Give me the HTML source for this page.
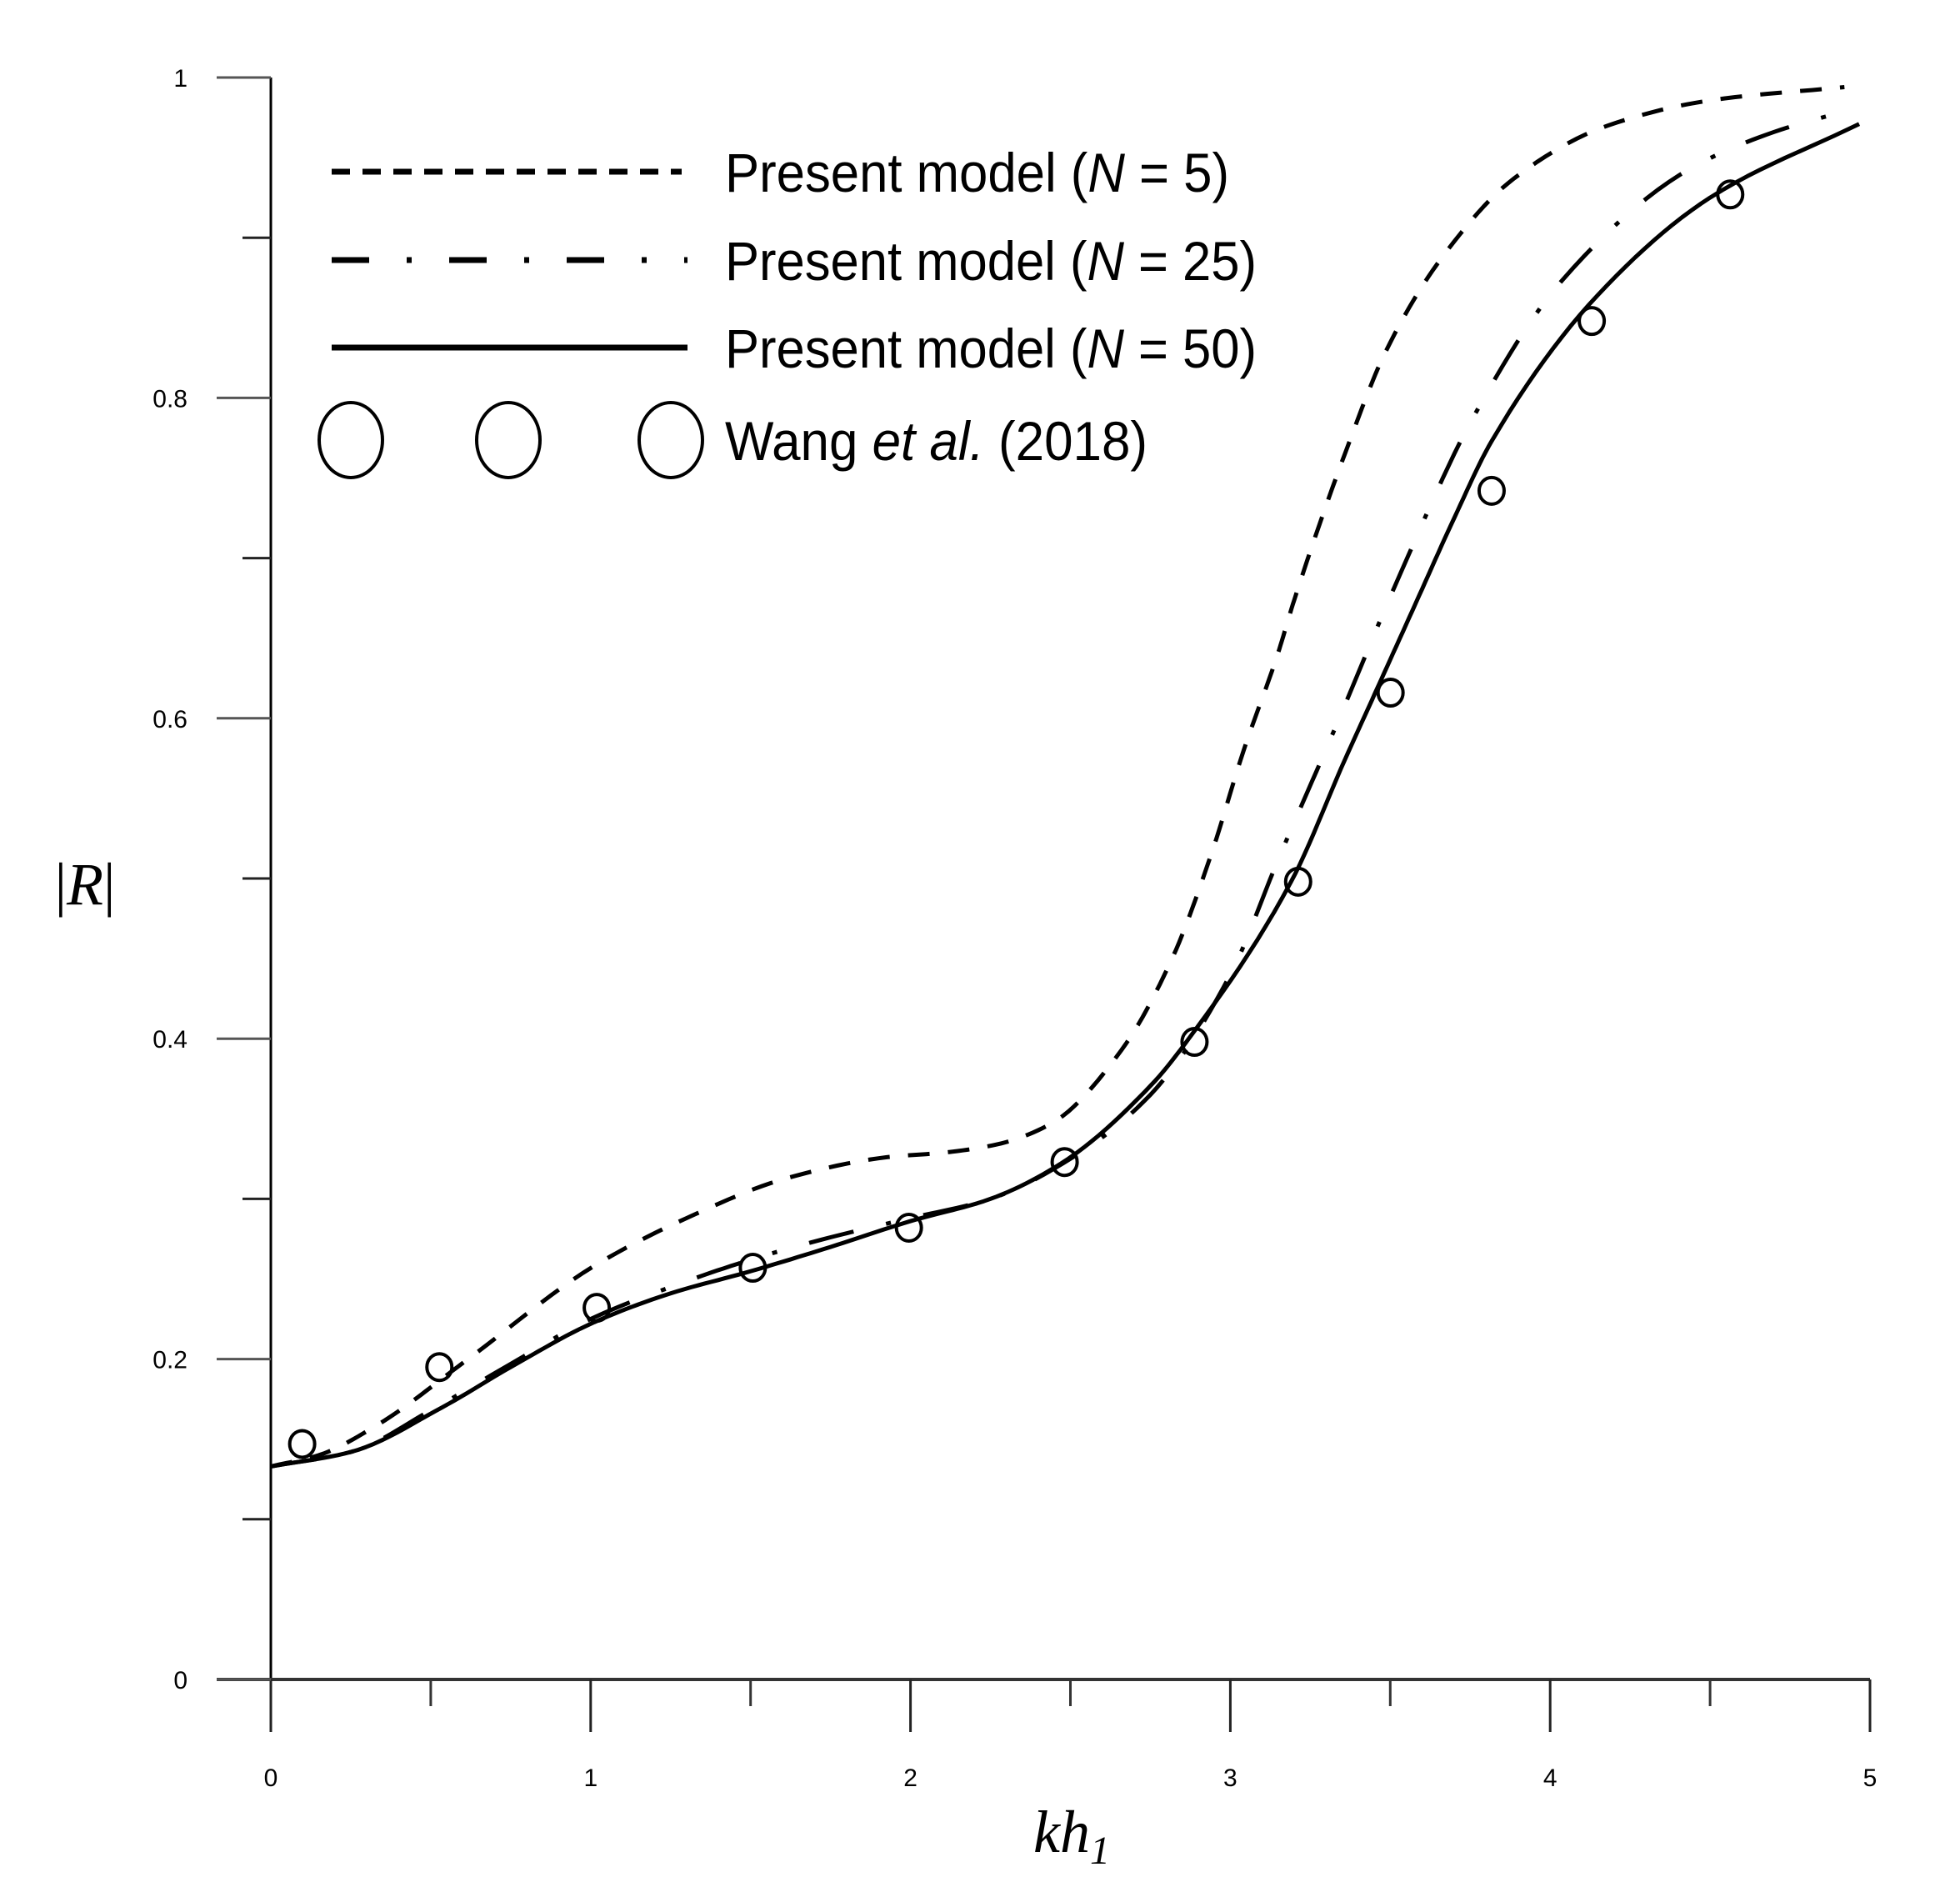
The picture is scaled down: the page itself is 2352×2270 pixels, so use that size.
<!DOCTYPE html>
<html><head><meta charset="utf-8"><style>
html,body{margin:0;padding:0;background:#fff;}
svg{display:block;}
text{font-family:"Liberation Sans",sans-serif;fill:#000;}
</style></head><body>
<svg id="chart" width="2352" height="2270" viewBox="0 0 2352 2270" xmlns="http://www.w3.org/2000/svg">
<g id="axes"></g>
<g id="series"></g>
<g id="legend">
  <line x1="398" y1="206" x2="818" y2="206" stroke="#000" stroke-width="7" stroke-dasharray="22,15"/>
  <text x="870" y="230" font-size="66" textLength="605" lengthAdjust="spacingAndGlyphs">Present model (<tspan font-style="italic">N</tspan> = 5)</text>
  <line x1="398" y1="312" x2="825" y2="312" stroke="#000" stroke-width="7" stroke-dasharray="45,45,6,45"/>
  <text x="870" y="336" font-size="66" textLength="638" lengthAdjust="spacingAndGlyphs">Present model (<tspan font-style="italic">N</tspan> = 25)</text>
  <line x1="398" y1="417" x2="825" y2="417" stroke="#000" stroke-width="7"/>
  <text x="870" y="441" font-size="66" textLength="638" lengthAdjust="spacingAndGlyphs">Present model (<tspan font-style="italic">N</tspan> = 50)</text>
  <ellipse cx="421" cy="528" rx="38" ry="45" fill="none" stroke="#000" stroke-width="4"/>
  <ellipse cx="610" cy="528" rx="38" ry="45" fill="none" stroke="#000" stroke-width="4"/>
  <ellipse cx="805" cy="528" rx="38" ry="45" fill="none" stroke="#000" stroke-width="4"/>
  <text x="870" y="552" font-size="66" textLength="507" lengthAdjust="spacingAndGlyphs">Wang <tspan font-style="italic">et al.</tspan> (2018)</text>
</g>
</svg>
<script>
const xTicks = [0, 1, 2, 3, 4, 5];
const yTicks = [0, 0.2, 0.4, 0.6, 0.8, 1];
const yTickLabels = ["0", "0.2", "0.4", "0.6", "0.8", "1"];
const n5X = [0, 0.15, 0.334, 0.61, 1.01, 1.3, 1.615, 1.926, 2.11, 2.27, 2.44, 2.66, 2.82, 2.94, 3.04, 3.148, 3.2, 3.358, 3.486, 3.663, 3.887, 4.18, 4.51, 4.92];
const n5Y = [0.133, 0.14, 0.159, 0.199, 0.258, 0.288, 0.313, 0.326, 0.329, 0.334, 0.347, 0.393, 0.451, 0.515, 0.579, 0.64, 0.674, 0.765, 0.829, 0.888, 0.937, 0.97, 0.986, 0.994];
const n25X = [0, 0.25, 0.5, 0.75, 1.0, 1.25, 1.5, 1.75, 2.0, 2.25, 2.5, 2.75, 3.0, 3.148, 3.33, 3.533, 3.757, 4.04, 4.437, 4.7, 4.94];
const n25Y = [0.133, 0.142, 0.168, 0.197, 0.225, 0.245, 0.262, 0.276, 0.288, 0.30, 0.325, 0.365, 0.44, 0.511, 0.595, 0.691, 0.787, 0.874, 0.943, 0.966, 0.98];
const n50X = [0, 0.25, 0.537, 0.75, 1.011, 1.25, 1.503, 1.75, 1.998, 2.25, 2.47, 2.757, 2.87, 3.19, 3.36, 3.46, 3.58, 3.7, 3.817, 4.148, 4.5, 4.966];
const n50Y = [0.133, 0.142, 0.17, 0.195, 0.223, 0.241, 0.255, 0.27, 0.286, 0.30, 0.322, 0.372, 0.40, 0.498, 0.575, 0.619, 0.672, 0.725, 0.773, 0.864, 0.925, 0.971];
const wangX = [0.098, 0.527, 1.019, 1.507, 1.995, 2.482, 2.888, 3.212, 3.501, 3.817, 4.13, 4.563];
const wangY = [0.147, 0.195, 0.232, 0.257, 0.282, 0.323, 0.398, 0.498, 0.616, 0.742, 0.848, 0.927];

const NS = "http://www.w3.org/2000/svg";
const X0 = 325, X1 = 2244, Y0 = 2015, Y1 = 93;
function sx(v){ return X0 + (X1 - X0) * v / 5; }
function sy(v){ return Y0 - (Y0 - Y1) * v; }
function mk(tag, attrs, parent){
  const e = document.createElementNS(NS, tag);
  for (const k in attrs) e.setAttribute(k, attrs[k]);
  parent.appendChild(e);
  return e;
}
const axes = document.getElementById('axes');
const series = document.getElementById('series');

let e = mk('line', {x1: X0, y1: Y1, x2: X0, y2: 2078, stroke: '#000', 'stroke-width': 3}, axes);


e = mk('line', {x1: 260, y1: Y0, x2: X1, y2: Y0, stroke: '#333', 'stroke-width': 4}, axes);



xTicks.forEach((t, i) => {
  const tk = mk('line', {x1: sx(t), y1: Y0, x2: sx(t), y2: 2078, stroke: '#222', 'stroke-width': 3}, axes);
  
  
  if (i < xTicks.length - 1) {
    const m = mk('line', {x1: sx(t + 0.5), y1: Y0, x2: sx(t + 0.5), y2: 2047, stroke: '#333', 'stroke-width': 3}, axes);
    
    
  }
  const lb = mk('text', {x: sx(t), y: 2143, 'font-size': 30, 'text-anchor': 'middle'}, axes);
  lb.textContent = String(t);
  
  
});
yTicks.forEach((t, i) => {
  const tk = mk('line', {x1: 260, y1: sy(t), x2: X0, y2: sy(t), stroke: '#555', 'stroke-width': 3}, axes);
  
  
  if (i < yTicks.length - 1) {
    const m = mk('line', {x1: 291, y1: sy(t + 0.1), x2: X0, y2: sy(t + 0.1), stroke: '#222', 'stroke-width': 3}, axes);
    
    
  }
  const lb = mk('text', {x: 225, y: sy(t) + 11, 'font-size': 30, 'text-anchor': 'end'}, axes);
  lb.textContent = yTickLabels[i];
  
  
});
let t = mk('text', {x: 1240, y: 2222, 'font-size': 72, 'font-style': 'italic', style: 'font-family:"Liberation Serif",serif'}, axes);
t.innerHTML = 'kh<tspan font-size="48" dy="14">1</tspan>';


t = mk('text', {x: 102, y: 1085, 'font-size': 72, 'text-anchor': 'middle', style: 'font-family:"Liberation Serif",serif'}, axes);
t.innerHTML = '|<tspan font-style="italic">R</tspan>|';



// monotone cubic (Fritsch-Carlson) interpolation, sampled finely
function pathFrom(xs, ys){
  const n = xs.length, d = [], m = new Array(n);
  for (let i = 0; i < n - 1; i++) d.push((ys[i + 1] - ys[i]) / (xs[i + 1] - xs[i]));
  m[0] = d[0]; m[n - 1] = d[n - 2];
  for (let i = 1; i < n - 1; i++) {
    if (d[i - 1] * d[i] <= 0) m[i] = 0;
    else {
      const h0 = xs[i] - xs[i - 1], h1 = xs[i + 1] - xs[i];
      const w1 = 2 * h1 + h0, w2 = h1 + 2 * h0;
      m[i] = (w1 + w2) / (w1 / d[i - 1] + w2 / d[i]);
    }
  }
  let path = 'M' + sx(xs[0]).toFixed(1) + ',' + sy(ys[0]).toFixed(1);
  for (let i = 0; i < n - 1; i++) {
    const h = xs[i + 1] - xs[i];
    for (let k = 1; k <= 12; k++) {
      const s = k / 12, s2 = s * s, s3 = s2 * s;
      const y = (2 * s3 - 3 * s2 + 1) * ys[i] + (s3 - 2 * s2 + s) * h * m[i] + (-2 * s3 + 3 * s2) * ys[i + 1] + (s3 - s2) * h * m[i + 1];
      path += ' L' + sx(xs[i] + s * h).toFixed(1) + ',' + sy(y).toFixed(1);
    }
  }
  return path;
}
let s = mk('path', {d: pathFrom(n5X, n5Y), fill: 'none', stroke: '#000', 'stroke-width': 5, 'stroke-dasharray': '26,22'}, series);


s = mk('path', {d: pathFrom(n25X, n25Y), fill: 'none', stroke: '#000', 'stroke-width': 5, 'stroke-dasharray': '55,40,6,40'}, series);


s = mk('path', {d: pathFrom(n50X, n50Y), fill: 'none', stroke: '#000', 'stroke-width': 5, 'stroke-linejoin': 'round'}, series);


wangX.forEach((x, i) => {
  const c = mk('ellipse', {cx: sx(x), cy: sy(wangY[i]), rx: 15, ry: 16, fill: 'none', stroke: '#000', 'stroke-width': 4}, series);
  
  
});
</script>
</body></html>
